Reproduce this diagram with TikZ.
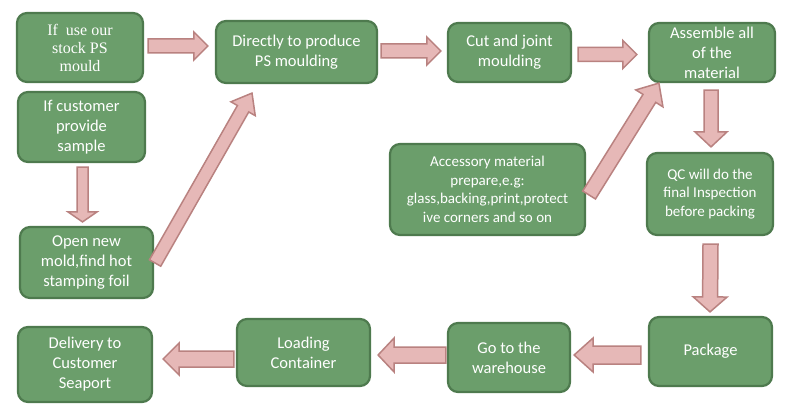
\documentclass[tikz,border=0pt]{standalone}
\usepackage{fontspec}
\setmainfont{Carlito}
\newfontfamily\tnr{Liberation Serif}
\usetikzlibrary{calc}
\definecolor{boxfill}{RGB}{107,158,107}
\definecolor{boxline}{RGB}{78,122,78}
\definecolor{arrfill}{RGB}{230,184,183}
\definecolor{arrline}{RGB}{185,130,128}
\tikzset{
  box/.style={draw=boxline, fill=boxfill, line width=2.2pt, rounded corners=10pt,
    text=white, align=center, font=\fontsize{16.5}{20}\selectfont, inner sep=2pt},
  smallbox/.style={box, font=\fontsize{15}{18.5}\selectfont},
  barr/.style={draw=arrline, fill=arrfill, line width=1.5pt, line join=miter},
}
\newcommand\blockarrow[5]{%
  \coordinate (bS) at #1;
  \coordinate (bE) at #2;
  \coordinate (bN) at ($(bE)!#5!(bS)$);
  \draw[barr] ($(bS)!#3!90:(bE)$) -- ($(bN)!#3!-90:(bS)$) -- ($(bN)!#4!-90:(bS)$)
    -- (bE) -- ($(bN)!#4!90:(bS)$) -- ($(bN)!#3!90:(bS)$) -- ($(bS)!#3!-90:(bE)$) -- cycle;
}
\begin{document}
\begin{tikzpicture}[x=1pt,y=-1pt]
\useasboundingbox[fill=white] (0,0) rectangle (800,409);
\node[box, minimum width=126, minimum height=69, font=\tnr\fontsize{16}{18}\selectfont] (b1) at (80,47.5) {If\ \ use our\\stock PS\\mould};
\node[box, minimum width=127, minimum height=70] (b2) at (81.5,127) {If customer\\provide\\sample};
\node[box, minimum width=133, minimum height=71] (b3) at (86.5,262.5) {Open new\\mold,find hot\\stamping foil};
\node[box, minimum width=161, minimum height=62] (b4) at (296.5,52) {Directly to produce\\PS moulding};
\node[box, minimum width=123, minimum height=59] (b5) at (509.5,52.5) {Cut and joint\\moulding};
\node[box, minimum width=126, minimum height=59] (b6) at (712,52.5) {Assemble all\\of the\\material};
\node[smallbox, minimum width=195, minimum height=91] (b7) at (487.5,189.5) {Accessory material\\prepare,e.g:\\glass,backing,print,protect\\ive corners and so on};
\node[smallbox, minimum width=126, minimum height=82] (b8) at (710,194) {QC will do the\\final Inspection\\before packing};
\node[box, minimum width=123, minimum height=69] (b9) at (710.5,351.5) {Package};
\node[box, minimum width=122, minimum height=69] (b10) at (509,357.5) {Go to the\\warehouse};
\node[box, minimum width=133, minimum height=67] (b11) at (303.5,352.5) {Loading\\Container};
\node[box, minimum width=134, minimum height=75] (b12) at (85,364.5) {Delivery to\\Customer\\Seaport};
% arrows
\blockarrow{($(b1.east)+(4,-1.5)$)}{($(b4.west)+(-7,-6)$)}{7pt}{14pt}{14pt}
\blockarrow{($(b4.east)+(3,-1)$)}{($(b5.west)+(-6,-1.5)$)}{7pt}{14pt}{14pt}
\blockarrow{($(b5.east)+(6,2)$)}{($(b6.west)+(-11,2)$)}{7pt}{14pt}{14pt}
\blockarrow{($(b6.south)+(-1,7)$)}{($(b8.north)+(1,-5)$)}{7pt}{16pt}{15pt}
\blockarrow{($(b8.south)+(0.5,8)$)}{($(b9.north)+(-0.5,-4)$)}{7.5pt}{17pt}{15pt}
\blockarrow{($(b9.west)+(-7,3.5)$)}{($(b10.east)+(3,-2.5)$)}{9pt}{17pt}{19pt}
\blockarrow{($(b10.west)+(-1,-2.5)$)}{($(b11.east)+(7,2.5)$)}{8pt}{17pt}{16pt}
\blockarrow{($(b11.west)+(-2,6.5)$)}{($(b12.east)+(10,-5.5)$)}{8pt}{16pt}{16pt}
\blockarrow{($(b2.south)+(1,4)$)}{($(b3.north)+(-4,-4)$)}{5.5pt}{14.5pt}{10pt}
\blockarrow{($(b3.east)+(1,0.5)$)}{($(b4.south)+(-44.5,9)$)}{6.5pt}{14pt}{18pt}
\blockarrow{($(b7.east)+(3,5.5)$)}{($(b6.south west)+(11,0)$)}{7.5pt}{16pt}{18pt}
\end{tikzpicture}
\end{document}
